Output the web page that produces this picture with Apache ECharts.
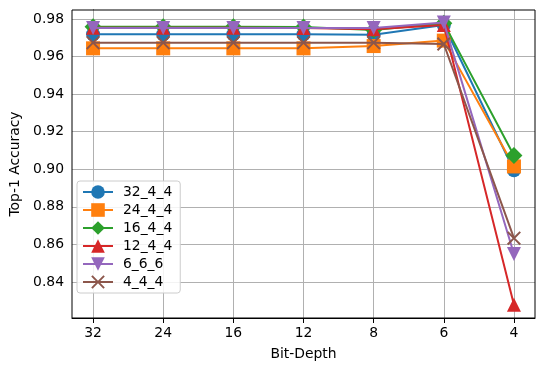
<!DOCTYPE html>
<html><head><meta charset="utf-8">
<script src="https://cdn.jsdelivr.net/npm/echarts@6/dist/echarts.min.js"></script>
<style>html,body{margin:0;padding:0;background:#fff}#c{width:545px;height:371px}</style>
</head><body><div id="c"></div>
<script>
var categories = ['32', '24', '16', '12', '8', '6', '4'];
var seriesNames = ['32_4_4', '24_4_4', '16_4_4', '12_4_4', '6_6_6', '4_4_4'];
var s32_4_4 = [0.9719, 0.9719, 0.9719, 0.9719, 0.9716, 0.9768, 0.8995];
var s24_4_4 = [0.9644, 0.9644, 0.9644, 0.9644, 0.9656, 0.9685, 0.9015];
var s16_4_4 = [0.9759, 0.9759, 0.9759, 0.9757, 0.9741, 0.9778, 0.9073];
var s12_4_4 = [0.9753, 0.9753, 0.9753, 0.9752, 0.9745, 0.9768, 0.8278];
var s6_6_6  = [0.9752, 0.9752, 0.9752, 0.9752, 0.9752, 0.9782, 0.8549];
var s4_4_4  = [0.9674, 0.9674, 0.9674, 0.9674, 0.9674, 0.9667, 0.8633];
var yTicks = [0.84, 0.86, 0.88, 0.90, 0.92, 0.94, 0.96, 0.98];

var allData = [s32_4_4, s24_4_4, s16_4_4, s12_4_4, s6_6_6, s4_4_4];
var colors = ['#1f77b4', '#ff7f0e', '#2ca02c', '#d62728', '#9467bd', '#8c564b'];
var symbols = ['circle', 'rect', 'diamond', 'triangle', 'path://M0,0L10,0L5,10Z',
  'path://M0,1L1,0L5,4L9,0L10,1L6,5L10,9L9,10L5,6L1,10L0,9L4,5Z'];
var sizes = [14, 14, 17, 14, 14, 14];
var font = 'DejaVu Sans';
var xIdx = categories.map(function (c, i) { return i; });

var chart = echarts.init(document.getElementById('c'), null, {renderer: 'canvas'});
var series = seriesNames.map(function (n, i) {
  return {
    name: n, type: 'line',
    data: allData[i].map(function (v, j) { return [j, v]; }),
    symbol: symbols[i], symbolSize: sizes[i], showAllSymbol: true,
    lineStyle: {color: colors[i], width: 2},
    itemStyle: {color: colors[i]},
    emphasis: {disabled: true},
    z: 3 + i, animation: false
  };
});
var gridLines = xIdx.map(function (i) { return {xAxis: i}; }).concat(yTicks.map(function (v) { return {yAxis: v}; }));
series.unshift({
  name: '_grid', type: 'line', data: [], z: 1, silent: true,
  markLine: {silent: true, symbol: 'none', animation: false, label: {show: false}, z: 1,
    lineStyle: {color: '#b0b0b0', width: 1, type: 'solid'}, emphasis: {disabled: true}, data: gridLines}
});
chart.setOption({
  animation: false,
  color: colors,
  grid: {left: 70.5, right: 10, top: 10, bottom: 53, show: true, borderColor: '#000', borderWidth: 1, backgroundColor: 'transparent', z: 10},
  xAxis: {
    type: 'value', min: -0.3, max: 6.3,
    name: 'Bit-Depth', nameLocation: 'middle', nameGap: 29,
    nameTextStyle: {fontFamily: font, fontSize: 13.9, color: '#000'},
    axisLine: {show: true, lineStyle: {color: '#000', width: 1}},
    axisTick: {show: true, length: 5, lineStyle: {color: '#000'}, customValues: xIdx},
    axisLabel: {fontFamily: font, fontSize: 13.9, color: '#000', margin: 8, customValues: xIdx,
      formatter: function (v) { return categories[Math.round(v)]; }},
    splitLine: {show: false}
  },
  yAxis: {
    type: 'value', min: 0.8208, max: 0.9848,
    name: 'Top-1 Accuracy', nameLocation: 'middle', nameGap: 50,
    nameTextStyle: {fontFamily: font, fontSize: 13.9, color: '#000'},
    axisLine: {show: true, lineStyle: {color: '#000', width: 1}},
    axisTick: {show: true, length: 5, lineStyle: {color: '#000'}, customValues: yTicks},
    axisLabel: {fontFamily: font, fontSize: 13.9, color: '#000', margin: 8, customValues: yTicks,
      formatter: function (v) { return v.toFixed(2); }},
    splitLine: {show: false}
  },
  legend: {
    orient: 'vertical', left: 77, top: 181, z: 50,
    data: seriesNames,
    itemWidth: 30, itemHeight: 17, itemGap: 4,
    padding: [4, 8, 4, 5],
    backgroundColor: 'rgba(255,255,255,0.85)', borderColor: '#cccccc', borderWidth: 1, borderRadius: 3,
    textStyle: {fontFamily: font, fontSize: 13.9, color: '#000', padding: [0, 0, 0, 5]}
  },
  series: series
});
</script></body></html>
